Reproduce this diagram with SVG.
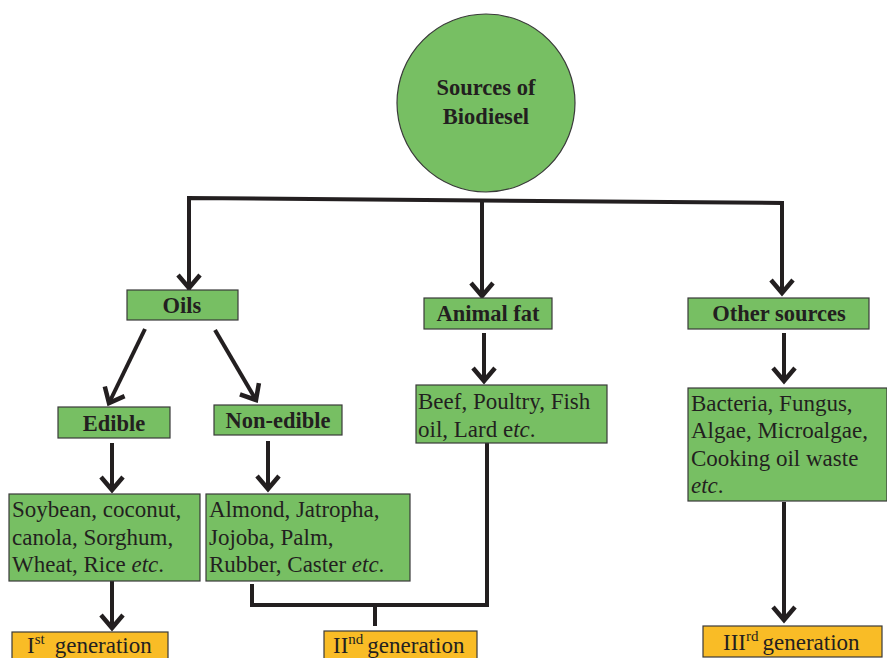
<svg xmlns="http://www.w3.org/2000/svg" width="887" height="658" viewBox="0 0 887 658">
<defs>
<marker id="arr" markerUnits="userSpaceOnUse" markerWidth="30" markerHeight="30" viewBox="-16 -15 20 30" refX="0" refY="0" orient="auto">
<path d="M-13,-11 L0,0 L-13,11" fill="none" stroke="#231F20" stroke-width="4.5"/>
</marker>
</defs>
<style>
.g{fill:#77BF63;stroke:#3a3a3a;stroke-width:1.2}
.o{fill:#F9BC26;stroke:#3a3a3a;stroke-width:1.2}
.b{font-family:"Liberation Serif",serif;font-weight:bold;font-size:22.5px;fill:#231F20;text-anchor:middle}
.t{font-family:"Liberation Serif",serif;font-size:23px;fill:#231F20}
.c{fill:none;stroke:#231F20;stroke-width:4}
.i{font-style:italic}
.s{font-size:15px}
</style>
<g id="connectors">
<path class="c" d="M189,290 L189,198 L782,203 L782,293" marker-end="url(#arr)"/>
<path class="c" d="M189,198 L189,288" marker-end="url(#arr)"/>
<path class="c" d="M482,201 L482,296" marker-end="url(#arr)"/>
<path class="c" d="M145,329 L109,403" marker-end="url(#arr)"/>
<path class="c" d="M215,330 L256,400" marker-end="url(#arr)"/>
<path class="c" d="M112,443 L112,490" marker-end="url(#arr)"/>
<path class="c" d="M268,441 L268,489" marker-end="url(#arr)"/>
<path class="c" d="M484,333 L484,381" marker-end="url(#arr)"/>
<path class="c" d="M784,333 L784,381" marker-end="url(#arr)"/>
<path class="c" d="M112,581 L112,628" marker-end="url(#arr)"/>
<path class="c" d="M784,502 L784,620" marker-end="url(#arr)"/>
<path class="c" d="M252,584 L252,605 L487,605 L487,443"/>
<path class="c" d="M375,605 L375,626"/>
</g>
<g id="sources">
<circle class="g" cx="486" cy="103" r="89"/>
<text class="b" x="486" y="95">Sources of</text>
<text class="b" x="486" y="124">Biodiesel</text>
</g>
<g id="oils">
<rect class="g" x="127" y="290" width="111" height="30"/>
<text class="b" x="182" y="313">Oils</text>
</g>
<g id="animal-fat">
<rect class="g" x="424" y="298" width="128" height="31"/>
<text class="b" x="488" y="321">Animal fat</text>
</g>
<g id="other-sources">
<rect class="g" x="688" y="298" width="181" height="31"/>
<text class="b" x="779" y="321">Other sources</text>
</g>
<g id="edible">
<rect class="g" x="58" y="407" width="112" height="31"/>
<text class="b" x="114" y="431">Edible</text>
</g>
<g id="non-edible">
<rect class="g" x="214" y="405" width="128" height="30"/>
<text class="b" x="278" y="428">Non-edible</text>
</g>
<g id="edible-list">
<rect class="g" x="9" y="494" width="191" height="87"/>
<text class="t" x="12" y="517">Soybean, coconut,</text>
<text class="t" x="12" y="545">canola, Sorghum,</text>
<text class="t" x="12" y="572">Wheat, Rice <tspan class="i">etc</tspan>.</text>
</g>
<g id="non-edible-list">
<rect class="g" x="206" y="494" width="204" height="87"/>
<text class="t" x="209" y="517">Almond, Jatropha,</text>
<text class="t" x="209" y="545">Jojoba, Palm,</text>
<text class="t" x="209" y="572">Rubber, Caster <tspan class="i">etc</tspan>.</text>
</g>
<g id="animal-list">
<rect class="g" x="416" y="385" width="191" height="58"/>
<text class="t" x="418" y="409">Beef, Poultry, Fish</text>
<text class="t" x="418" y="437">oil, Lard e<tspan class="i">tc</tspan>.</text>
</g>
<g id="other-list">
<rect class="g" x="688" y="388" width="199" height="113"/>
<text class="t" x="691" y="411">Bacteria, Fungus,</text>
<text class="t" x="691" y="438">Algae, Microalgae,</text>
<text class="t" x="691" y="466">Cooking oil waste</text>
<text class="t" x="691" y="493"><tspan class="i">etc</tspan>.</text>
</g>
<g id="gen1">
<rect class="o" x="12" y="632" width="156" height="30"/>
<text class="t" x="27" y="653">I<tspan class="s" dy="-9">st</tspan><tspan dx="10" dy="9">generation</tspan></text>
</g>
<g id="gen2">
<rect class="o" x="324" y="631" width="153" height="31"/>
<text class="t" x="333" y="653">II<tspan class="s" dy="-9">nd</tspan><tspan dx="4" dy="9">generation</tspan></text>
</g>
<g id="gen3">
<rect class="o" x="703" y="626" width="179" height="31"/>
<text class="t" x="723" y="650">III<tspan class="s" dy="-9">rd</tspan><tspan dx="4" dy="9">generation</tspan></text>
</g>
</svg>
